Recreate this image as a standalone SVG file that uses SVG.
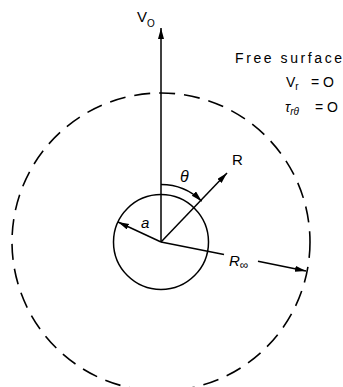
<svg xmlns="http://www.w3.org/2000/svg" width="343" height="387" viewBox="0 0 343 387">
<style>
.ln{stroke:#000;stroke-width:1.5;fill:none}
.dash{stroke:#000;stroke-width:1.6;fill:none;stroke-dasharray:16 9}
text{font-family:"Liberation Sans","DejaVu Sans",sans-serif;fill:#000;font-size:14px}
.it{font-style:italic}
.sub{font-size:10px}
</style>
<defs>
<marker id="ah" markerUnits="userSpaceOnUse" markerWidth="12" markerHeight="8" refX="11" refY="3" orient="auto">
<path d="M0,0 L11,3 L0,6 z" fill="#000"/>
</marker>
</defs>
<rect width="343" height="387" fill="#fff"/>
<g id="outer-boundary">
<circle class="dash" cx="161" cy="242" r="149"/>
</g>
<g id="cylinder">
<circle class="ln" cx="161" cy="242" r="47.5"/>
</g>
<g id="connectors">
<line class="ln" x1="161" y1="242" x2="161" y2="28" marker-end="url(#ah)"/>
<line class="ln" x1="161" y1="242" x2="227" y2="173" marker-end="url(#ah)"/>
<line class="ln" x1="161" y1="242" x2="118" y2="222" marker-end="url(#ah)"/>
<line class="ln" x1="161" y1="242" x2="224" y2="254.5"/>
<line class="ln" x1="258" y1="261.3" x2="306" y2="271" marker-end="url(#ah)"/>
<path class="ln" d="M161,184.5 A57.5,57.5 0 0 1 201.7,201.3" marker-end="url(#ah)"/>
</g>
<g id="labels">
<text x="137" y="22" style="font-size:15px">V<tspan class="sub" dx="0" dy="5">O</tspan></text>
<text x="235" y="63" textLength="107" lengthAdjust="spacing">Free surface</text>
<text x="286" y="87">V<tspan class="sub" dy="3">r</tspan></text>
<text x="311" y="87">= O</text>
<text x="285" y="112" class="it">τ<tspan class="sub" dy="3">rθ</tspan></text>
<text x="315" y="112">= O</text>
<text x="180" y="182" class="it" style="font-size:16px">θ</text>
<text x="232" y="165" style="font-size:15px">R</text>
<text x="141" y="228" class="it" style="font-size:15px">a</text>
<text x="229" y="266" class="it" style="font-size:15px">R<tspan class="sub" style="font-style:normal;font-size:12px" dy="3">∞</tspan></text>
</g>
</svg>
